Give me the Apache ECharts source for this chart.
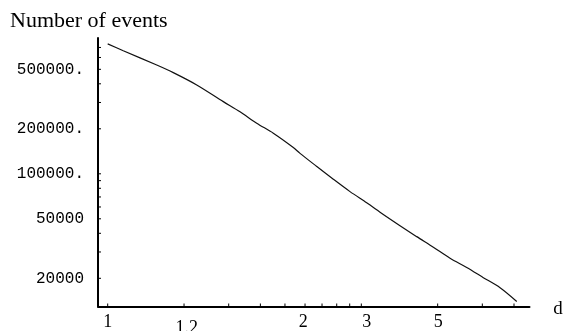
<!DOCTYPE html>
<html>
<head>
<meta charset="utf-8">
<script src="https://cdn.jsdelivr.net/npm/echarts@6/dist/echarts.min.js"></script>
<style>
  html, body { margin: 0; padding: 0; background: #fff; }
  #chart { width: 567px; height: 331px; }
</style>
</head>
<body>
<div id="chart"></div>
<script>
// Event count against the scale variable (log-log axes).
const curveU = [1, 1.152, 1.561, 1.814, 2.244, 2.857, 3.325, 3.869, 4.498, 5.394, 5.733,
  6.672, 7.755, 9.025, 10.5, 12.21, 14.21, 16.54, 19.23, 22.38, 26.04, 30.28, 35.24, 41.01];
const curveN = [740000, 666000, 534000, 475000, 393000, 304000, 260000, 218000, 187000, 150000, 137000,
  112000, 92000, 76000, 64000, 53500, 45000, 38000, 32300, 27200, 23600, 20200, 17300, 14000];

// Axis ranges
const U_MIN = 0.9158, U_MAX = 46.04;
const N_MIN = 12954, N_MAX = 809900;

// Tick marks on the horizontal and vertical axes
const uTicks = [1, 2, 3, 4, 5, 6, 7, 8, 9, 10, 20, 30, 40];
const nTicks = [20000, 30000, 40000, 50000, 60000, 70000, 80000, 90000,
  100000, 200000, 300000, 400000, 500000, 600000, 700000];

// Tick labels
const dLabelText = ['1', '1.2', '2', '3', '5'];
const dLabelAt = [1, 2.05, 5.9, 10.5, 20.1];
const nLabelText = ['20000', '50000', '100000.', '200000.', '500000.'];
const nLabelAt = [20000, 50000, 100000, 200000, 500000];

const SERIF = '"Liberation Serif", "Times New Roman", serif';
const MONO = '"Liberation Mono", "Courier New", monospace';

const chart = echarts.init(document.getElementById('chart'), null, { renderer: 'canvas' });

const labelDrop = { '1.2': 6 };

chart.setOption({
  animation: false,
  backgroundColor: '#fff',
  grid: { left: 98, right: 37.5, top: 38, bottom: 24.5, containLabel: false },
  xAxis: {
    type: 'log', min: U_MIN, max: U_MAX,
    axisLine: { show: true, onZero: false, lineStyle: { color: '#000', width: 2 } },
    axisTick: { show: false }, axisLabel: { show: false }, splitLine: { show: false }, minorTick: { show: false }
  },
  yAxis: {
    type: 'log', min: N_MIN, max: N_MAX,
    axisLine: { show: true, onZero: false, lineStyle: { color: '#000', width: 2 } },
    axisTick: { show: false }, axisLabel: { show: false }, splitLine: { show: false }, minorTick: { show: false }
  },
  graphic: [
    { type: 'text', left: 10, top: 10, style: { text: 'Number of events', font: '22px ' + SERIF, fill: '#000' } },
    { type: 'text', x: 558, y: 309, style: { text: 'd', font: '19px ' + SERIF, fill: '#000', align: 'center', verticalAlign: 'middle' } }
  ],
  series: [
    {
      type: 'line',
      data: curveU.map((u, i) => [u, curveN[i]]),
      showSymbol: false,
      smooth: 0.3,
      lineStyle: { color: '#111', width: 1.2 },
      silent: true
    },
    {
      // ticks along the horizontal axis
      type: 'custom', silent: true,
      data: uTicks.map(u => [u, N_MIN]),
      renderItem: (params, api) => {
        const p = api.coord([api.value(0), api.value(1)]);
        return { type: 'line', shape: { x1: p[0], y1: p[1], x2: p[0], y2: p[1] - 3 }, style: { stroke: '#000', lineWidth: 1 } };
      }
    },
    {
      // ticks along the vertical axis
      type: 'custom', silent: true,
      data: nTicks.map(n => [U_MIN, n]),
      renderItem: (params, api) => {
        const p = api.coord([api.value(0), api.value(1)]);
        return { type: 'line', shape: { x1: p[0], y1: p[1], x2: p[0] + 3, y2: p[1] }, style: { stroke: '#000', lineWidth: 1 } };
      }
    },
    {
      // horizontal axis labels
      type: 'custom', silent: true,
      data: dLabelAt.map((u, i) => [u, N_MIN, i]),
      renderItem: (params, api) => {
        const p = api.coord([api.value(0), api.value(1)]);
        const t = dLabelText[api.value(2)];
        return { type: 'text', style: { text: t, x: p[0], y: p[1] + 16 + (labelDrop[t] || 0), font: '18px ' + SERIF, fill: '#000', align: 'center', verticalAlign: 'middle' } };
      }
    },
    {
      // vertical axis labels
      type: 'custom', silent: true,
      data: nLabelAt.map((n, i) => [U_MIN, n, i]),
      renderItem: (params, api) => {
        const p = api.coord([api.value(0), api.value(1)]);
        return { type: 'text', style: { text: nLabelText[api.value(2)], x: p[0] - 14, y: p[1], font: '16px ' + MONO, fill: '#000', align: 'right', verticalAlign: 'middle' } };
      }
    }
  ]
});
</script>
</body>
</html>
